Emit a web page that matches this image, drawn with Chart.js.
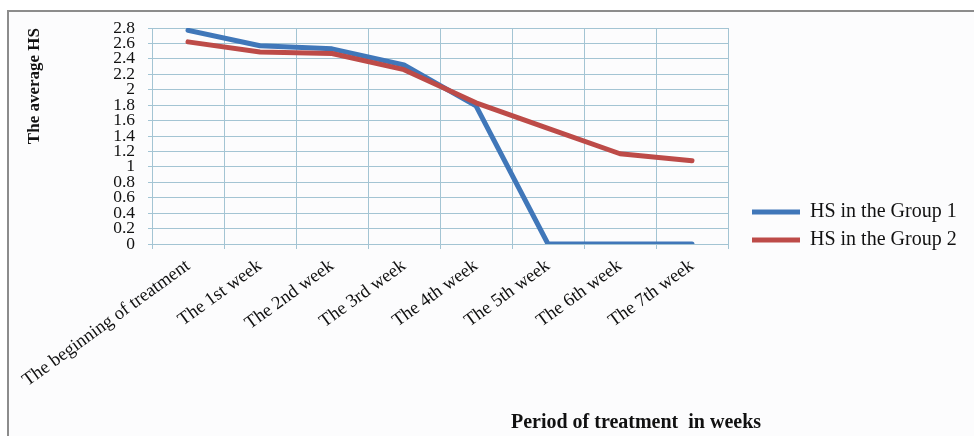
<!DOCTYPE html>
<html>
<head>
<meta charset="utf-8">
<script src="https://cdn.jsdelivr.net/npm/chart.js@4.4.1/dist/chart.umd.min.js"></script>
<style>
    html, body { margin: 0; padding: 0; background: #fff; overflow: hidden; }
    #wrap { position: relative; width: 974px; height: 436px; overflow: hidden; }
    #frame {
        position: absolute; left: 7px; top: 10px; width: 990px; height: 450px;
        border-left: 2px solid #8c8c8c; border-top: 2px solid #8c8c8c; background: #fcfcfd;
    }
    #chart { position: absolute; left: 0; top: 0; }
    #x-title {
        position: absolute; left: 486px; top: 410px; width: 300px; text-align: center;
        font: bold 20px "Liberation Serif", serif; color: #111; white-space: pre;
    }
</style>
</head>
<body>
<div id="wrap">
    <div id="frame"></div>
    <canvas id="chart" width="974" height="436"></canvas>
    <div id="x-title">Period of treatment  in weeks</div>
</div>
<script>
// --- Data ---
const periods = [
    'The beginning of treatment', 'The 1st week', 'The 2nd week', 'The 3rd week',
    'The 4th week', 'The 5th week', 'The 6th week', 'The 7th week'
];
const group1 = [2.77, 2.57, 2.53, 2.32, 1.79, 0, 0, 0];
const group2 = [2.62, 2.49, 2.47, 2.26, 1.83, 1.50, 1.17, 1.08];
const yTickValues = [0, 0.2, 0.4, 0.6, 0.8, 1, 1.2, 1.4, 1.6, 1.8, 2, 2.2, 2.4, 2.6, 2.8];

const SERIF = '"Liberation Serif", "Times New Roman", serif';
const GRID = '#a3c4d3';
const PLOT_LEFT = 152;
const LEGEND_W = 246;

// keep the legend a fixed width and nudge it right of the plot
const legendPlacement = {
    id: 'legendPlacement',
    beforeLayout(chart) {
        const lg = chart.legend;
        if (lg && !lg._fixed) {
            const fit = lg.fit;
            lg.fit = function () { fit.call(this); this.width = LEGEND_W; };
            lg._fixed = true;
        }
    },
    afterLayout(chart) {
        chart.legend.left += 16;
        chart.legend.right += 16;
    }
};

const ctx = document.getElementById('chart').getContext('2d');
new Chart(ctx, {
    type: 'line',
    data: {
        labels: periods,
        datasets: [{
            label: 'HS in the Group 1',
            data: group1,
            borderColor: '#4077b9',
            backgroundColor: '#4077b9',
            borderWidth: 5,
            pointBorderWidth: 5,
            borderCapStyle: 'round',
            borderJoinStyle: 'round',
            pointRadius: 0,
            tension: 0,
            order: 1
        }, {
            label: 'HS in the Group 2',
            data: group2,
            borderColor: '#bd4b48',
            backgroundColor: '#bd4b48',
            borderWidth: 5,
            pointBorderWidth: 5,
            borderCapStyle: 'round',
            borderJoinStyle: 'round',
            pointRadius: 0,
            tension: 0,
            order: 0
        }]
    },
    options: {
        responsive: false,
        animation: false,
        layout: { padding: { left: 0, top: 28, right: 0, bottom: 12 } },
        plugins: {
            tooltip: { enabled: false },
            legend: {
                position: 'right',
                labels: {
                    usePointStyle: true,
                    pointStyle: 'line',
                    pointStyleWidth: 48,
                    padding: 8,
                    color: '#111',
                    font: { family: SERIF, size: 20 },
                    sort: (a, b) => a.datasetIndex - b.datasetIndex
                }
            }
        },
        scales: {
            x: {
                offset: true,
                grid: { offset: true, color: GRID, tickLength: 5 },
                border: { color: GRID },
                ticks: {
                    autoSkip: false,
                    minRotation: 36,
                    maxRotation: 36,
                    padding: 6,
                    color: '#111',
                    font: { family: SERIF, size: 18.5 }
                },
                afterFit: s => { s.height = 436 - 12 - 244; }
            },
            y: {
                min: 0,
                max: 2.8,
                afterBuildTicks: s => { s.ticks = yTickValues.map(v => ({ value: v })); },
                grid: { color: GRID, tickLength: 4 },
                border: { color: GRID },
                ticks: {
                    autoSkip: false,
                    padding: 13,
                    color: '#111',
                    font: { family: SERIF, size: 17.5, lineHeight: 1 },
                    callback: v => String(+(+v).toFixed(1))
                },
                title: {
                    display: true,
                    text: 'The average HS',
                    align: 'end',
                    color: '#111',
                    padding: { top: 24, bottom: 0 },
                    font: { family: SERIF, size: 17, weight: 'bold' }
                },
                afterFit: s => { s.width = PLOT_LEFT; }
            }
        }
    },
    plugins: [legendPlacement]
});
</script>
</body>
</html>
